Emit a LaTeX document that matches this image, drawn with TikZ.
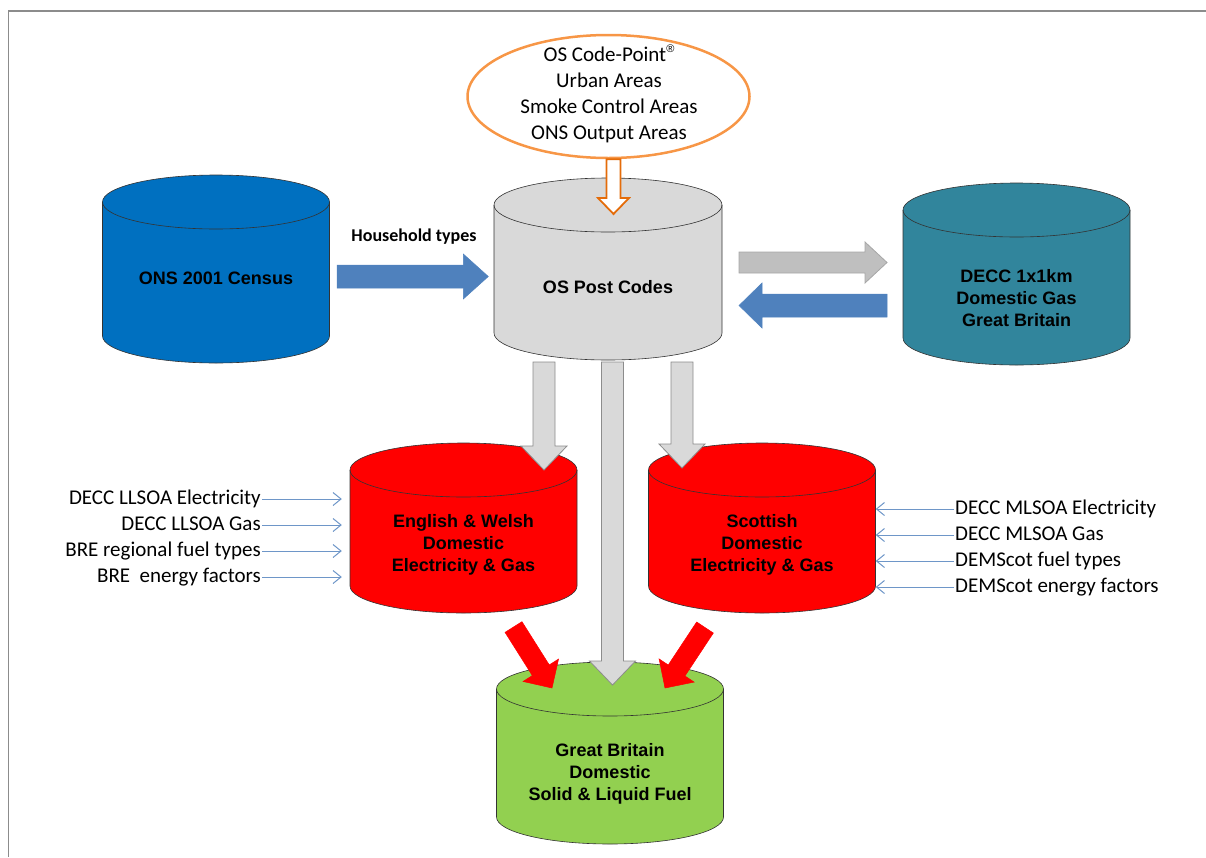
\documentclass[tikz,border=0pt]{standalone}
\usepackage{fontspec}
\setmainfont{Carlito}
\newfontfamily\arialfont{Liberation Sans}
\usetikzlibrary{arrows.meta,calc,shapes.geometric}

\definecolor{censusblue}{HTML}{0070C0}
\definecolor{codegray}{HTML}{D9D9D9}
\definecolor{deccteal}{HTML}{31859C}
\definecolor{gbgreen}{HTML}{92D050}
\definecolor{arrowblue}{HTML}{4F81BD}
\definecolor{srcorange}{HTML}{F79646}
\definecolor{darkorange}{HTML}{E46C0A}
\definecolor{thinblue}{HTML}{6E96C8}
\definecolor{framegray}{HTML}{8C8C8C}

% cylinder: centre x, centre y, width, height, colour
\newcommand{\dbcyl}[5]{%
  \filldraw[fill=#5, draw=black!80, line width=0.6pt]
    (#1-#3/2, #2+#4/2-27) -- (#1-#3/2, #2-#4/2+27)
    arc[start angle=180, end angle=360, x radius=#3/2, y radius=27]
    -- (#1+#3/2, #2+#4/2-27)
    arc[start angle=0, end angle=180, x radius=#3/2, y radius=27] -- cycle;
  \draw[black!80, line width=0.6pt] (#1-#3/2, #2+#4/2-27)
    arc[start angle=180, end angle=360, x radius=#3/2, y radius=27];
}
% block arrow: style, start, tip, shaft half width, head half width, head length
\newcommand{\blkarrow}[6]{%
  \coordinate (ba-h) at ($(#3)!#6!(#2)$);
  \draw[#1] ($(#2)!#4!90:(#3)$) -- ($(ba-h)!#4!-90:(#2)$) -- ($(ba-h)!#5!-90:(#2)$)
    -- (#3) -- ($(ba-h)!#5!90:(#2)$) -- ($(ba-h)!#4!90:(#2)$)
    -- ($(#2)!#4!-90:(#3)$) -- cycle;
}

\begin{document}
\begin{tikzpicture}[x=1pt, y=1pt,
        dbtext/.style={font=\arialfont\bfseries\fontsize{18}{22}\selectfont, align=center, minimum width=227, inner sep=0},
        lbl/.style={font=\fontsize{21}{26}\selectfont, inner sep=1pt, text height=14pt, text depth=4pt},
        inarrow/.style={thinblue, line width=1pt, -{Straight Barb[length=8pt,width=13pt]}},
        grayarrow/.style={fill=codegray, draw=black!45, line width=0.8pt},
        bluearrow/.style={fill=arrowblue, draw=arrowblue, line width=0.5pt},
        redarrow/.style={fill=red, draw=red, line width=0.5pt}]

        \useasboundingbox (0,0) rectangle (1206,-857);
        \draw[framegray, line width=1.2pt] (8.5,-857) -- (8.5,-11) -- (1206,-11);

        \dbcyl{216}{-269}{227}{188}{censusblue}
        \dbcyl{608}{-269}{228}{182}{codegray}
        \dbcyl{1016.5}{-274}{227}{182}{deccteal}
        \dbcyl{463.5}{-528}{227}{170}{red}
        \dbcyl{762}{-528}{227}{170}{red}
        \dbcyl{610}{-753}{227}{182}{gbgreen}

        \node[dbtext] (census) at (216,-278) {ONS 2001 Census};
        \node[dbtext] (postcodes) at (608,-287) {OS Post Codes};
        \node[dbtext] (decc) at (1016.5,-298.5) {DECC 1x1km\\Domestic Gas\\Great Britain};
        \node[dbtext] (engwal) at (463.5,-545) {English \& Welsh\\Domestic\\Electricity \& Gas};
        \node[dbtext] (scot) at (762,-545) {Scottish\\Domestic\\Electricity \& Gas};
        \node[dbtext] (gbfuel) at (610,-773.5) {Great Britain\\Domestic\\Solid \& Liquid Fuel};

        \node[ellipse, draw=srcorange, line width=2.5pt, minimum width=282, minimum height=123, inner sep=0] (srcring) at (608.5,-96.5) {};
        \node[font=\fontsize{21}{26}\selectfont, align=center] (sources) at (609,-94)
                {OS Code-Point\raisebox{0.9ex}{\arialfont\fontsize{11}{11}\selectfont ®}\\Urban Areas\\Smoke Control Areas\\ONS Output Areas};

        \node[font=\bfseries\fontsize{18}{22}\selectfont] (hhlabel) at (414,-237) {Household types};

        \coordinate (hh-s) at ($(census.east)+(7.5,1.5)$);
        \coordinate (hh-t) at ($(postcodes.west)+(-6,10.5)$);
        \blkarrow{bluearrow}{hh-s}{hh-t}{11.5pt}{22.5pt}{25pt}

        \coordinate (out-s) at (739,-262.5);
        \coordinate (out-t) at (887,-262.5);
        \blkarrow{fill=black!25, draw=black!35, line width=0.8pt}{out-s}{out-t}{10.5pt}{20.5pt}{22pt}
        \coordinate (back-s) at (887,-305.5);
        \coordinate (back-t) at (739,-305.5);
        \blkarrow{bluearrow}{back-s}{back-t}{11.5pt}{22.5pt}{23pt}

        \coordinate (src-s) at (srcring.south -| 613.5,0);
        \coordinate (src-t) at (613.5,-214);
        \blkarrow{fill=white, draw=darkorange, line width=1.8pt}{src-s}{src-t}{7pt}{15.5pt}{16pt}

        \foreach \x/\y in {544/-470, 612.5/-685, 682/-468}
        {
                \coordinate (dn-s) at (\x,-362);
                \coordinate (dn-t) at (\x,\y);
                \blkarrow{grayarrow}{dn-s}{dn-t}{11pt}{23pt}{24pt}
        }

        \coordinate (rl-s) at (513.5,-627);
        \coordinate (rl-t) at (552,-688);
        \blkarrow{redarrow}{rl-s}{rl-t}{10pt}{21pt}{21pt}
        \coordinate (rr-s) at (705,-627.5);
        \coordinate (rr-t) at (665,-688);
        \blkarrow{redarrow}{rr-s}{rr-t}{10pt}{21pt}{21pt}

        \foreach \t [count=\i] in {DECC LLSOA Electricity, DECC LLSOA Gas, BRE regional fuel types, BRE\ \ energy factors}
        {
                \node[lbl, anchor=east] (ewin\i) at (262, -473-26*\i) {\t};
                \draw[inarrow, shorten >=8pt] (ewin\i.east) -- (ewin\i.east -| engwal.west);
        }
        \foreach \t [count=\i] in {DECC MLSOA Electricity, DECC MLSOA Gas, DEMScot fuel types, DEMScot energy factors}
        {
                \node[lbl, anchor=west] (scin\i) at (954, -483-26*\i) {\t};
                \draw[inarrow] (scin\i.west) -- (scin\i.west -| scot.east);
        }

\end{tikzpicture}
\end{document}
